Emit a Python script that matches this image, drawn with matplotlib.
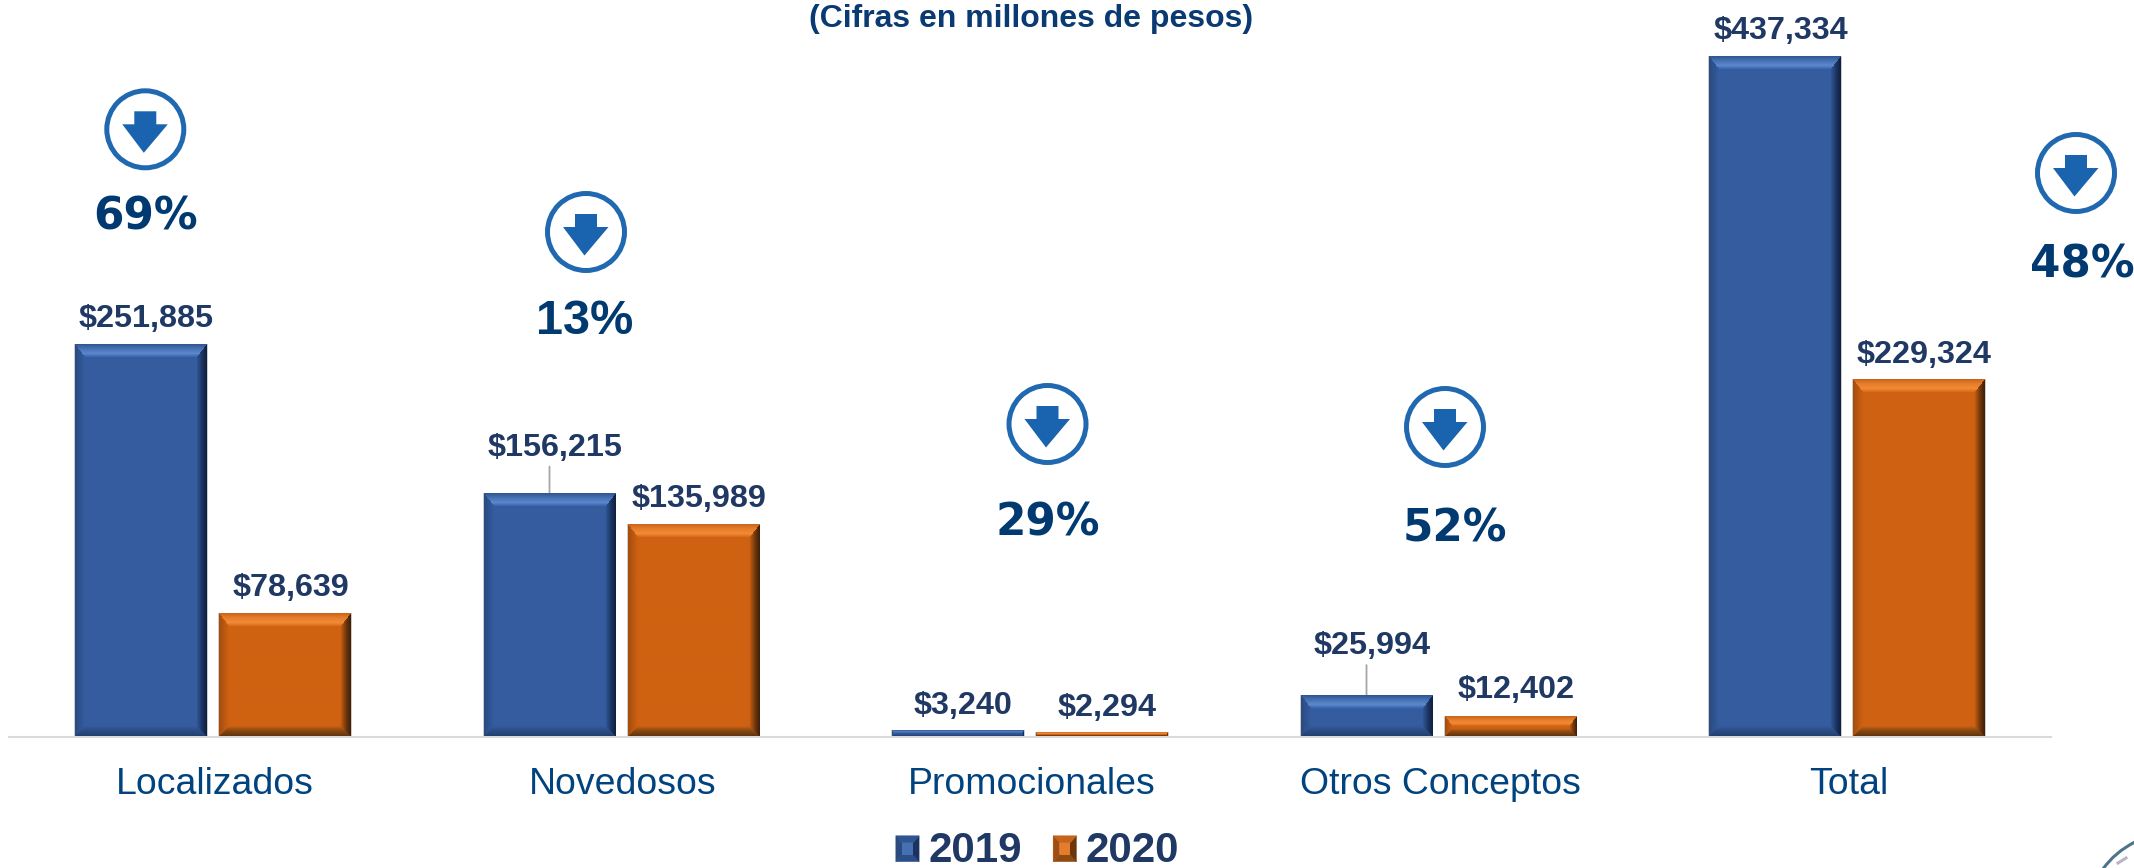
import numpy as np
import matplotlib
matplotlib.use("Agg")
import matplotlib.pyplot as plt
from matplotlib.colors import to_rgb
from matplotlib.patches import Circle, Polygon, Patch, PathPatch
from matplotlib.path import Path
from matplotlib.legend_handler import HandlerBase
from matplotlib.transforms import ScaledTranslation

# ---------- data ----------
categories = ["Localizados", "Novedosos", "Promocionales", "Otros Conceptos", "Total"]
values_2019 = [251885, 156215, 3240, 25994, 437334]
values_2020 = [78639, 135989, 2294, 12402, 229324]
pct_labels = ["69%", "13%", "29%", "52%", "48%"]
series_names = ["2019", "2020"]
subtitle = "(Cifras en millones de pesos)"

# ---------- layout (pixels of the 2134x868 canvas) ----------
W, H, DPI = 2134, 868, 100
AX_L, AX_R, AX_B = 8.75, 2051.25, 736.5
PX_PER_UNIT = 680 / 437334
BAR_W = 131.5 / 408.5
BAR_OFF = 72 / 408.5
icon_xy = [(145.3, 129.3), (586, 232), (1047.5, 424), (1445, 427), (2076, 173)]
pct_xy = [(146, 213), (585, 316.5), (1048, 518), (1455, 524), (2082, 260)]
pct_font = ["DejaVu Sans", "Liberation Sans", "DejaVu Sans", "DejaVu Sans", "DejaVu Sans"]
pct_size = [31.5, 35, 31.5, 31.5, 31.5]
label_lift = {"2019": [26, 46, 25, 50, 26], "2020": [26, 26, 25, 27, 25]}
leader_len = {"2019": [0, 27, 0, 31, 0], "2020": [0, 0, 0, 0, 0]}

# ---------- style ----------
FONT = "Liberation Sans"
NAVY = "#1F3864"
TITLE_C = "#0A3A72"
CAT_C = "#00437F"
PCT_C = "#003A70"
RING_C = "#2069B0"
ARROW_C = "#1A63AE"
GRID_C = "#DADADA"
LEADER_C = "#A6A6A6"
shade = {
    "2019": dict(
        base="#345C9F",
        top=[(0, "#2F5590"), (.35, "#4570B2"), (.72, "#5C88CE"), (1, "#3A64A8")],
        right=[(0, "#0F1E3C"), (.45, "#1B3360"), (1, "#305795")],
        left=[(0, "#2A4A80"), (1, "#345C9F")],
        bottom=[(0, "#22406F"), (.6, "#2C4E88"), (1, "#345C9F")],
    ),
    "2020": dict(
        base="#CF6212",
        top=[(0, "#C7641B"), (.35, "#E57C2A"), (.72, "#F48A35"), (1, "#D66A18")],
        right=[(0, "#3E1D06"), (.45, "#6B360D"), (1, "#C35C11")],
        left=[(0, "#A24C0D"), (1, "#CF6212")],
        bottom=[(0, "#5E340F"), (.6, "#8F4C12"), (1, "#CF6212")],
    ),
}


def ramp(t, stops):
    xs = [s[0] for s in stops]
    cols = np.array([to_rgb(s[1]) for s in stops])
    return np.stack([np.interp(t, xs, cols[:, i]) for i in range(3)], axis=-1)


def bevel_image(w_px, h_px, sty):
    """RGB picture of one bevelled bar face."""
    nx, ny = max(int(round(w_px)), 2), max(int(round(h_px)), 2)
    k = min(1.0, h_px / 26.0)
    bt, bo = max(13 * k, .8), max(10 * k, .8)
    X, Y = np.meshgrid((np.arange(nx) + .5) * w_px / nx, (np.arange(ny) + .5) * h_px / ny)
    d = np.stack([Y / bt, (h_px - Y) / bo, X / bo, (w_px - X) / bo])
    face = d.argmin(axis=0)
    t = np.clip(d.min(axis=0), 0, 1)
    img = np.empty((ny, nx, 3))
    img[:] = to_rgb(sty["base"])
    for i, key in enumerate(["top", "bottom", "left", "right"]):
        m = (face == i) & (t < 1)
        img[m] = ramp(t[m], sty[key])
    return img


class BevelHandler(HandlerBase):
    def create_artists(self, legend, orig, xd, yd, w, h, fontsize, trans):
        sty = shade[orig.get_label()]
        x0, y0 = -xd, -yd - 1.5
        cx, cy = x0 + w / 2, y0 + h / 2
        c = [(x0, y0), (x0 + w, y0), (x0 + w, y0 + h), (x0, y0 + h)]
        ins = .45
        inner = [(px + (cx - px) * (1 - ins), py + (cy - py) * (1 - ins)) for px, py in c]
        faces = [
            (0, 1, sty["bottom"][1][1]),
            (1, 2, sty["right"][1][1]),
            (2, 3, sty["top"][0][1]),
            (3, 0, sty["left"][0][1]),
        ]
        out = []
        for a, b, col in faces:
            p = Polygon([c[a], c[b], inner[b], inner[a]], closed=True,
                        facecolor=col, edgecolor=col, lw=.3)
            p.set_transform(trans)
            out.append(p)
        core = Polygon(inner, closed=True, facecolor=sty["top"][1][1], edgecolor="none")
        core.set_transform(trans)
        out.append(core)
        return out


plt.rcParams["font.family"] = [FONT, "DejaVu Sans"]
fig = plt.figure(figsize=(W / DPI, H / DPI), dpi=DPI, facecolor="white")
ax = fig.add_axes([AX_L / W, 1 - AX_B / H, (AX_R - AX_L) / W, AX_B / H])
ax.patch.set_visible(False)

x = np.arange(len(categories))
ymax = AX_B / PX_PER_UNIT
unit_px = (AX_R - AX_L) / len(categories)

for name, vals, off in [("2019", values_2019, -BAR_OFF), ("2020", values_2020, BAR_OFF)]:
    bars = ax.bar(x + off, vals, BAR_W, color=shade[name]["base"],
                  edgecolor=(.55, .55, .55, .45), linewidth=1.4, zorder=2)
    for i, (rect, v) in enumerate(zip(bars, vals)):
        x0, w = rect.get_x(), rect.get_width()
        img = bevel_image(w * unit_px, v * PX_PER_UNIT, shade[name])
        ax.imshow(img, extent=(x0, x0 + w, 0, v), origin="upper", aspect="auto",
                  interpolation="bilinear", zorder=3)
        cx = x0 + w / 2
        ax.annotate(f"${v:,}", xy=(cx, v), xytext=(5.5, label_lift[name][i]),
                    textcoords="offset pixels", ha="center", va="center",
                    fontsize=23.3, fontweight="bold", color=NAVY, zorder=5)
        if leader_len[name][i]:
            ax.annotate("", xy=(cx, v), xytext=(0, leader_len[name][i]),
                        xycoords="data", textcoords=("offset pixels"),
                        arrowprops=dict(arrowstyle="-", color=LEADER_C, lw=1.3,
                                        shrinkA=0, shrinkB=0), zorder=1)

ax.set_xlim(-.5, len(categories) - .5)
ax.set_ylim(0, ymax)
ax.set_yticks([])
ax.set_xticks(x)
ax.set_xticklabels(categories, fontsize=26.9, color=CAT_C)
ax.tick_params(axis="x", length=0, pad=21.6)
nudge = ScaledTranslation(1.5 / DPI, 0, fig.dpi_scale_trans)
for lab in ax.get_xticklabels():
    lab.set_transform(lab.get_transform() + nudge)
for s in ["top", "left", "right"]:
    ax.spines[s].set_visible(False)
ax.spines["bottom"].set_color(GRID_C)
ax.spines["bottom"].set_linewidth(1.5)

# overlay in pixel coordinates for the annotation graphics
ov = fig.add_axes([0, 0, 1, 1], facecolor="none")
ov.set_xlim(0, W)
ov.set_ylim(H, 0)
ov.axis("off")

ov.text(1031.5, 19, subtitle, ha="center", va="center", fontsize=23,
        fontweight="bold", color=TITLE_C)

for (cx, cy), (tx, ty), lab, fam, sz in zip(icon_xy, pct_xy, pct_labels, pct_font, pct_size):
    ov.add_patch(Circle((cx, cy), 38.5, facecolor="white", edgecolor=RING_C, lw=3.6))
    ov.add_patch(Polygon(
        [(cx - 11, cy - 18), (cx + 11, cy - 18), (cx + 11, cy - 5), (cx + 22.5, cy - 5),
         (cx - 1.5, cy + 23.5), (cx - 23, cy - 5), (cx - 11, cy - 5)],
        closed=True, facecolor=ARROW_C, edgecolor="none"))
    ov.text(tx, ty, lab, ha="center", va="center_baseline", fontsize=sz,
            fontweight="bold", family=fam, color=PCT_C)

# corner fragment of the seal
ov.add_patch(PathPatch(Path([(2103, 869), (2115, 852), (2135, 842)],
                            [Path.MOVETO, Path.CURVE3, Path.CURVE3]),
                       facecolor="none", edgecolor="#4E7488", lw=2.2))
ov.plot([2118, 2126], [863, 858], color="#B9B4C8", lw=2.2)

handles = [Patch(facecolor=shade[n]["base"], label=n) for n in series_names]
fig.legend(handles=handles, labels=series_names, handler_map={Patch: BevelHandler()},
           loc="center", bbox_to_anchor=(1037.5 / W, 1 - 850.5 / H), ncol=2, frameon=False,
           prop=dict(family=FONT, weight="bold", size=30.3), labelcolor=NAVY,
           handlelength=.553, handleheight=.57, handletextpad=.22, columnspacing=.74,
           borderpad=0, borderaxespad=0)

fig.savefig("out.png", dpi=DPI, facecolor="white")
